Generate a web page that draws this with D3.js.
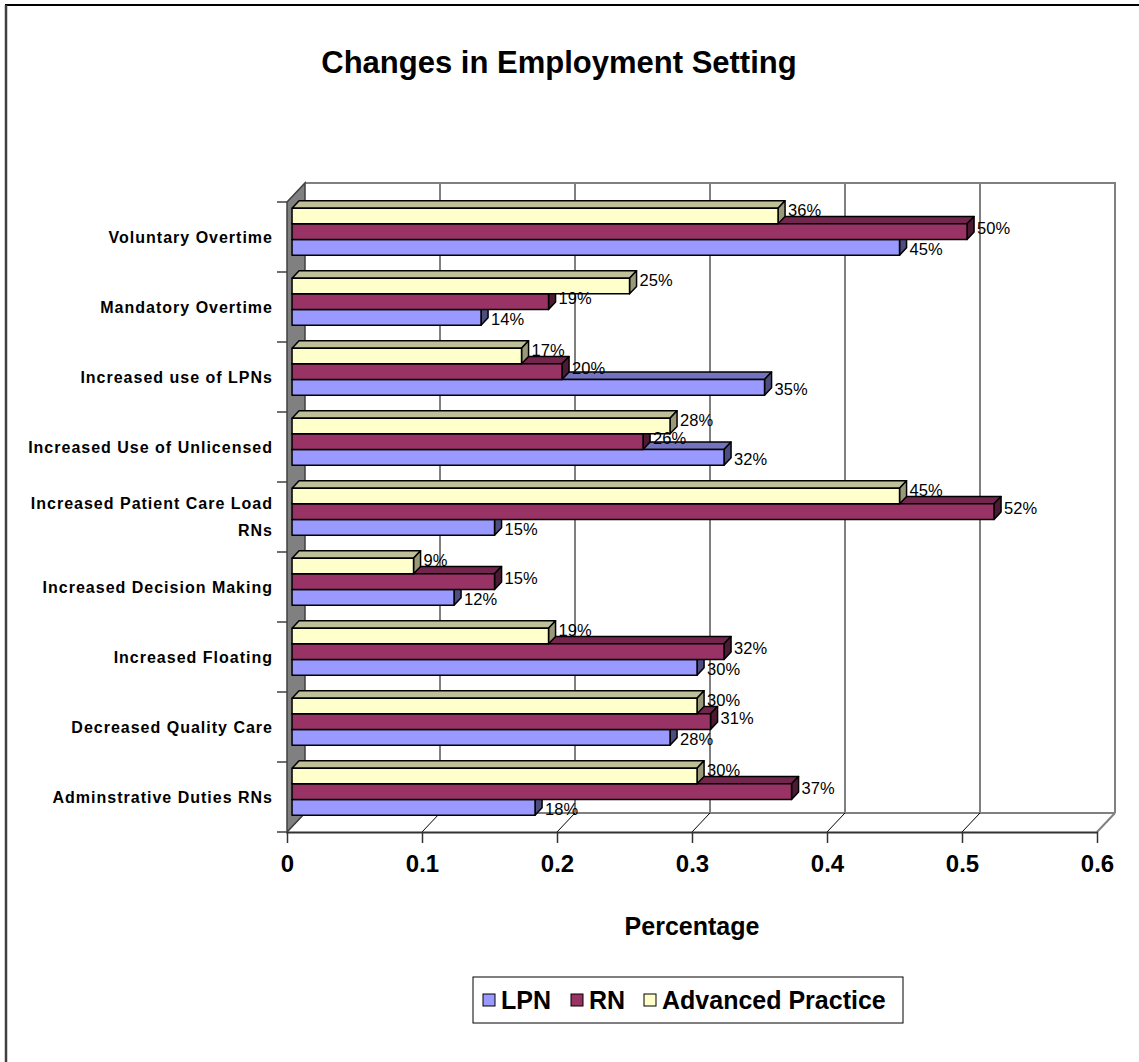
<!DOCTYPE html>
<html>
<head>
<meta charset="utf-8">
<script src="https://cdn.jsdelivr.net/npm/d3@7"></script>
<style>
  html, body { margin: 0; padding: 0; background: #fff; }
  svg { display: block; font-family: Arial, "Liberation Sans", sans-serif; }
</style>
</head>
<body>
<svg id="chart" width="1139" height="1062"></svg>
<script>
const categories = [
  "Voluntary Overtime",
  "Mandatory Overtime",
  "Increased use of LPNs",
  "Increased Use of Unlicensed",
  "Increased Patient Care Load RNs",
  "Increased Decision Making",
  "Increased Floating",
  "Decreased Quality Care",
  "Adminstrative Duties RNs"
];
const seriesNames = ["LPN", "RN", "Advanced Practice"];
const lpnValues = [45, 14, 35, 32, 15, 12, 30, 28, 18];
const rnValues  = [50, 19, 20, 26, 52, 15, 32, 31, 37];
const apValues  = [36, 25, 17, 28, 45, 9, 19, 30, 30];
const xTickValues = [0, 0.1, 0.2, 0.3, 0.4, 0.5, 0.6];
const titleText = "Changes in Employment Setting";
const xAxisTitle = "Percentage";

const seriesColors = {
  "LPN": { front: "#9999FF", top: "#7373BF", side: "#4D4D80" },
  "RN": { front: "#993366", top: "#73264D", side: "#4D1A33" },
  "Advanced Practice": { front: "#FFFFCC", top: "#BFBF99", side: "#99997A" }
};
const labelShift = { "LPN": 1.5, "RN": -3.5, "Advanced Practice": -6.5 };
const seriesValues = { "LPN": lpnValues, "RN": rnValues, "Advanced Practice": apValues };

const svg = d3.select("#chart");

// outer frame
svg.append("line").attr("x1", 5).attr("y1", 5).attr("x2", 1139).attr("y2", 5)
  .attr("stroke", "#000").attr("stroke-width", 2);
svg.append("line").attr("x1", 6).attr("y1", 5).attr("x2", 6).attr("y2", 1062)
  .attr("stroke", "#404040").attr("stroke-width", 2.5);

// title
svg.append("text").attr("x", 559).attr("y", 73).attr("text-anchor", "middle")
  .attr("font-size", 31).attr("font-weight", "bold").text(titleText);

// 3D geometry
const frontTop = 202, frontBottom = 832;
const DX = 18, DY = 19;
const x = d3.scaleLinear().domain([0, 0.6]).range([287, 1097]);
const y = d3.scaleBand().domain(categories).range([frontTop, frontBottom]).paddingInner(0).paddingOuter(0);
const ySeries = d3.scaleBand().domain(["Advanced Practice", "RN", "LPN"])
  .range([0, y.bandwidth()]).paddingInner(0).paddingOuter(0.733);
const P = (xv, yy, z) => [x(xv) + z * DX, yy - z * DY];

const g = svg.append("g");

// back wall
const bx0 = x(0) + DX, bx1 = x(0.6) + DX, by0 = frontTop - DY, by1 = frontBottom - DY;
g.append("rect").attr("x", bx0).attr("y", by0).attr("width", bx1 - bx0).attr("height", by1 - by0)
  .attr("fill", "#fff");
g.selectAll("line.grid").data(xTickValues.filter(d => d > 0 && d < 0.6)).join("line")
  .attr("class", "grid")
  .attr("x1", d => x(d) + DX).attr("x2", d => x(d) + DX)
  .attr("y1", by0).attr("y2", by1)
  .attr("stroke", "#000").attr("stroke-width", 1);
g.append("polyline")
  .attr("points", [[bx0, by0], [bx1, by0], [bx1, by1]].map(p => p.join(",")).join(" "))
  .attr("fill", "none").attr("stroke", "#808080").attr("stroke-width", 2);
g.append("line").attr("x1", bx0).attr("y1", by1).attr("x2", bx1).attr("y2", by1)
  .attr("stroke", "#808080").attr("stroke-width", 2);
g.selectAll("line.fdiag").data(xTickValues.filter(d => d > 0 && d < 0.6)).join("line")
  .attr("class", "fdiag")
  .attr("x1", d => x(d)).attr("y1", frontBottom)
  .attr("x2", d => x(d) + DX).attr("y2", by1)
  .attr("stroke", "#000").attr("stroke-width", 1);
g.append("line").attr("x1", x(0.6)).attr("y1", frontBottom).attr("x2", bx1).attr("y2", by1)
  .attr("stroke", "#808080").attr("stroke-width", 2);

// left wall
g.append("polygon")
  .attr("points", [[x(0), frontTop], [bx0, by0], [bx0, by1], [x(0), frontBottom]].map(p => p.join(",")).join(" "))
  .attr("fill", "#808080").attr("stroke", "#404040").attr("stroke-width", 1.5);
g.append("line").attr("x1", x(0)).attr("y1", frontBottom).attr("x2", bx0).attr("y2", by1)
  .attr("stroke", "#404040").attr("stroke-width", 1);

// category boundary ticks on left
const boundaries = categories.map(c => y(c)).concat([frontBottom]);
g.selectAll("line.ctick").data(boundaries).join("line")
  .attr("class", "ctick")
  .attr("x1", x(0) - 10).attr("x2", x(0)).attr("y1", d => d).attr("y2", d => d)
  .attr("stroke", "#404040").attr("stroke-width", 1.5);

// x axis
const xAxis = d3.axisBottom(x).tickValues(xTickValues).tickSize(11).tickSizeOuter(0)
  .tickPadding(12)
  .tickFormat(d => d === 0 ? "0" : d3.format(".1f")(d));
const ax = svg.append("g").attr("transform", `translate(0,${frontBottom})`).call(xAxis);
ax.select(".domain").attr("stroke", "#333").attr("stroke-width", 2);
ax.selectAll(".tick line").attr("stroke", "#333").attr("stroke-width", 1.5);
ax.selectAll(".tick text").attr("font-size", 24).attr("font-weight", "bold")
  .attr("fill", "#000").attr("font-family", "Arial, 'Liberation Sans', sans-serif");

// bars
const z0 = 0.28, z1 = 0.67;
const barsG = svg.append("g");
const drawOrder = ["LPN", "RN", "Advanced Practice"];
const catsReversed = categories.slice().reverse();
const pts = arr => arr.map(p => p.join(",")).join(" ");
catsReversed.forEach(cat => {
  const ci = categories.indexOf(cat);
  drawOrder.forEach(s => {
    const v = seriesValues[s][ci] / 100;
    const col = seriesColors[s];
    const yt = y(cat) + ySeries(s);
    const yb = yt + ySeries.bandwidth();
    const fTL = P(0, yt, z0), fTR = P(v, yt, z0), fBR = P(v, yb, z0), fBL = P(0, yb, z0);
    const bTL = P(0, yt, z1), bTR = P(v, yt, z1), bBR = P(v, yb, z1);
    const bar = barsG.append("g");
    bar.append("polygon").attr("points", pts([fTL, fTR, bTR, bTL]))
      .attr("fill", col.top).attr("stroke", "#000").attr("stroke-width", 1.5).attr("stroke-linejoin", "round");
    bar.append("polygon").attr("points", pts([fTR, bTR, bBR, fBR]))
      .attr("fill", col.side).attr("stroke", "#000").attr("stroke-width", 1.5).attr("stroke-linejoin", "round");
    bar.append("polygon").attr("points", pts([fTL, fTR, fBR, fBL]))
      .attr("fill", col.front).attr("stroke", "#000").attr("stroke-width", 1.5).attr("stroke-linejoin", "round");
  });
});

// value labels
const labelsG = svg.append("g");
categories.forEach((cat, ci) => {
  drawOrder.forEach(s => {
    const v = seriesValues[s][ci] / 100;
    const yt = y(cat) + ySeries(s);
    const yc = yt + ySeries.bandwidth() / 2;
    const p = P(v, yc, z0);
    labelsG.append("text")
      .attr("x", p[0] + 10).attr("y", p[1] + labelShift[s])
      .attr("dominant-baseline", "central")
      .attr("font-size", 16.5).attr("fill", "#000")
      .text(seriesValues[s][ci] + "%");
  });
});

// category labels
const catG = svg.append("g");
categories.forEach(cat => {
  const cy = y(cat) + y.bandwidth() / 2;
  const t = catG.append("text").attr("x", 273).attr("text-anchor", "end")
    .attr("font-size", 16).attr("font-weight", "bold").attr("fill", "#000")
    .attr("letter-spacing", 1);
  const words = cat.split(" ");
  let lines = [], line = [];
  const probe = t.append("tspan");
  words.forEach(w => {
    const trial = line.concat([w]).join(" ");
    probe.text(trial);
    if (probe.node().getComputedTextLength() > 262 && line.length) {
      lines.push(line.join(" "));
      line = [w];
    } else line.push(w);
  });
  lines.push(line.join(" "));
  probe.remove();
  const lh = 27;
  const startY = cy - (lines.length - 1) * lh / 2;
  lines.forEach((ln, i) => {
    t.append("tspan").attr("x", 273).attr("y", startY + i * lh)
      .attr("dominant-baseline", "central").text(ln);
  });
});

// x axis title
svg.append("text").attr("x", 692).attr("y", 935).attr("text-anchor", "middle")
  .attr("font-size", 25).attr("font-weight", "bold").text(xAxisTitle);

// legend
const lg = svg.append("g");
lg.append("rect").attr("x", 473).attr("y", 977).attr("width", 430).attr("height", 46)
  .attr("fill", "#fff").attr("stroke", "#000").attr("stroke-width", 1);
const legendX = [483, 571, 644];
seriesNames.forEach((s, i) => {
  lg.append("rect").attr("x", legendX[i]).attr("y", 994).attr("width", 12).attr("height", 12)
    .attr("fill", seriesColors[s].front).attr("stroke", "#000").attr("stroke-width", 1);
  lg.append("text").attr("x", legendX[i] + 18).attr("y", 1000)
    .attr("dominant-baseline", "central")
    .attr("font-size", 25).attr("font-weight", "bold").text(s);
});
</script>
</body>
</html>
